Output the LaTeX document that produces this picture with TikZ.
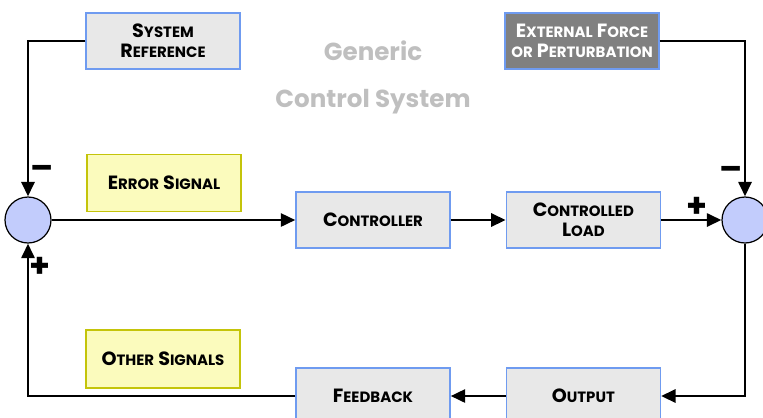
\documentclass[tikz,border=0pt]{standalone}
\usepackage{fontspec}
\setmainfont{Poppins}
\usetikzlibrary{positioning,arrows.meta,calc}

\definecolor{boxline}{HTML}{6F9BF0}
\definecolor{boxfill}{HTML}{E8E8E8}
\definecolor{notefill}{HTML}{FBFBBD}
\definecolor{noteline}{HTML}{C4C40A}
\definecolor{sumfill}{HTML}{C2CCFC}
\definecolor{extfill}{HTML}{808080}

% small caps by hand: big first letter, smaller rest
\newcommand{\smcap}[2]{{\fontsize{10.9}{11.4}\selectfont #1}{\fontsize{8.5}{11.4}\selectfont #2}}

\begin{document}
\begin{tikzpicture}[
      x=0.02cm, y=-0.02cm,
      font=\bfseries,
      box/.style={draw=boxline, line width=0.8pt, fill=boxfill, minimum width=3.08cm,
                  minimum height=1.12cm, inner sep=2pt, align=center,
                  font=\fontsize{10.9}{11.4}\selectfont\bfseries},
      note/.style={box, draw=noteline, fill=notefill},
      sum/.style={circle, draw, line width=0.7pt, fill=sumfill, minimum size=0.92cm, inner sep=0pt},
      sign/.style={font=\fontsize{19}{19}\selectfont\bfseries, inner sep=0pt},
      arrow/.style={-{Triangle[length=2.9mm, width=2.6mm]}, line width=1.6pt},
    ]
      \useasboundingbox (0,0) rectangle (763,417);
      % title
      \node[text=black!25, font=\fontsize{14}{16}\selectfont\bfseries] (title1) at (373,51) {Generic};
      \node[text=black!25, font=\fontsize{14}{16}\selectfont\bfseries] (title2) at (373,102) {Control System};
      % boxes
      \node[box] (sysref) at (163,41) {\smcap{S}{YSTEM}\\\smcap{R}{EFERENCE}};
      \node[box, fill=extfill, text=white] (ext) at (582,41) {\smcap{E}{XTERNAL} \smcap{F}{ORCE}\\{\fontsize{8.5}{11.4}\selectfont OR} \smcap{P}{ERTURBATION}};
      \node[note, minimum height=1.14cm] (err) at (164,183) {\smcap{E}{RROR} \smcap{S}{IGNAL}};
      \node[box] (ctrl) at (373,220) {\smcap{C}{ONTROLLER}};
      \node[box, right=1.1cm of ctrl] (load) {\smcap{C}{ONTROLLED}\\\smcap{L}{OAD}};
      \node[note, minimum height=1.16cm] (other) at (163,359) {\smcap{O}{THER} \smcap{S}{IGNALS}};
      \node[box] (fb) at (373,396) {\smcap{F}{EEDBACK}};
      \node[box, right=1.1cm of fb] (out) {\smcap{O}{UTPUT}};
      % summing points
      \node[sum] (sumL) at (28,220) {};
      \node[sum] (sumR) at (745,220) {};
      % signs
      \node[sign] (mL) at (42,172) {--};
      \node[sign] (pL) at (40,267) {+};
      \node[sign] (pR) at (697,207) {+};
      \node[sign] (mR) at (731,173) {--};
      % connectors
      \draw[arrow] (sysref.west) -| (sumL.north);
      \draw[arrow] (ext.east) -| (sumR.north);
      \draw[arrow] (sumL.east) -- (ctrl.west);
      \draw[arrow] (ctrl) -- (load);
      \draw[arrow] (load) -- (sumR);
      \draw[arrow] (sumR.south) |- (out.east);
      \draw[arrow] (out) -- (fb);
      \draw[arrow] (fb.west) -| (sumL.south);
    \end{tikzpicture}
\end{document}
